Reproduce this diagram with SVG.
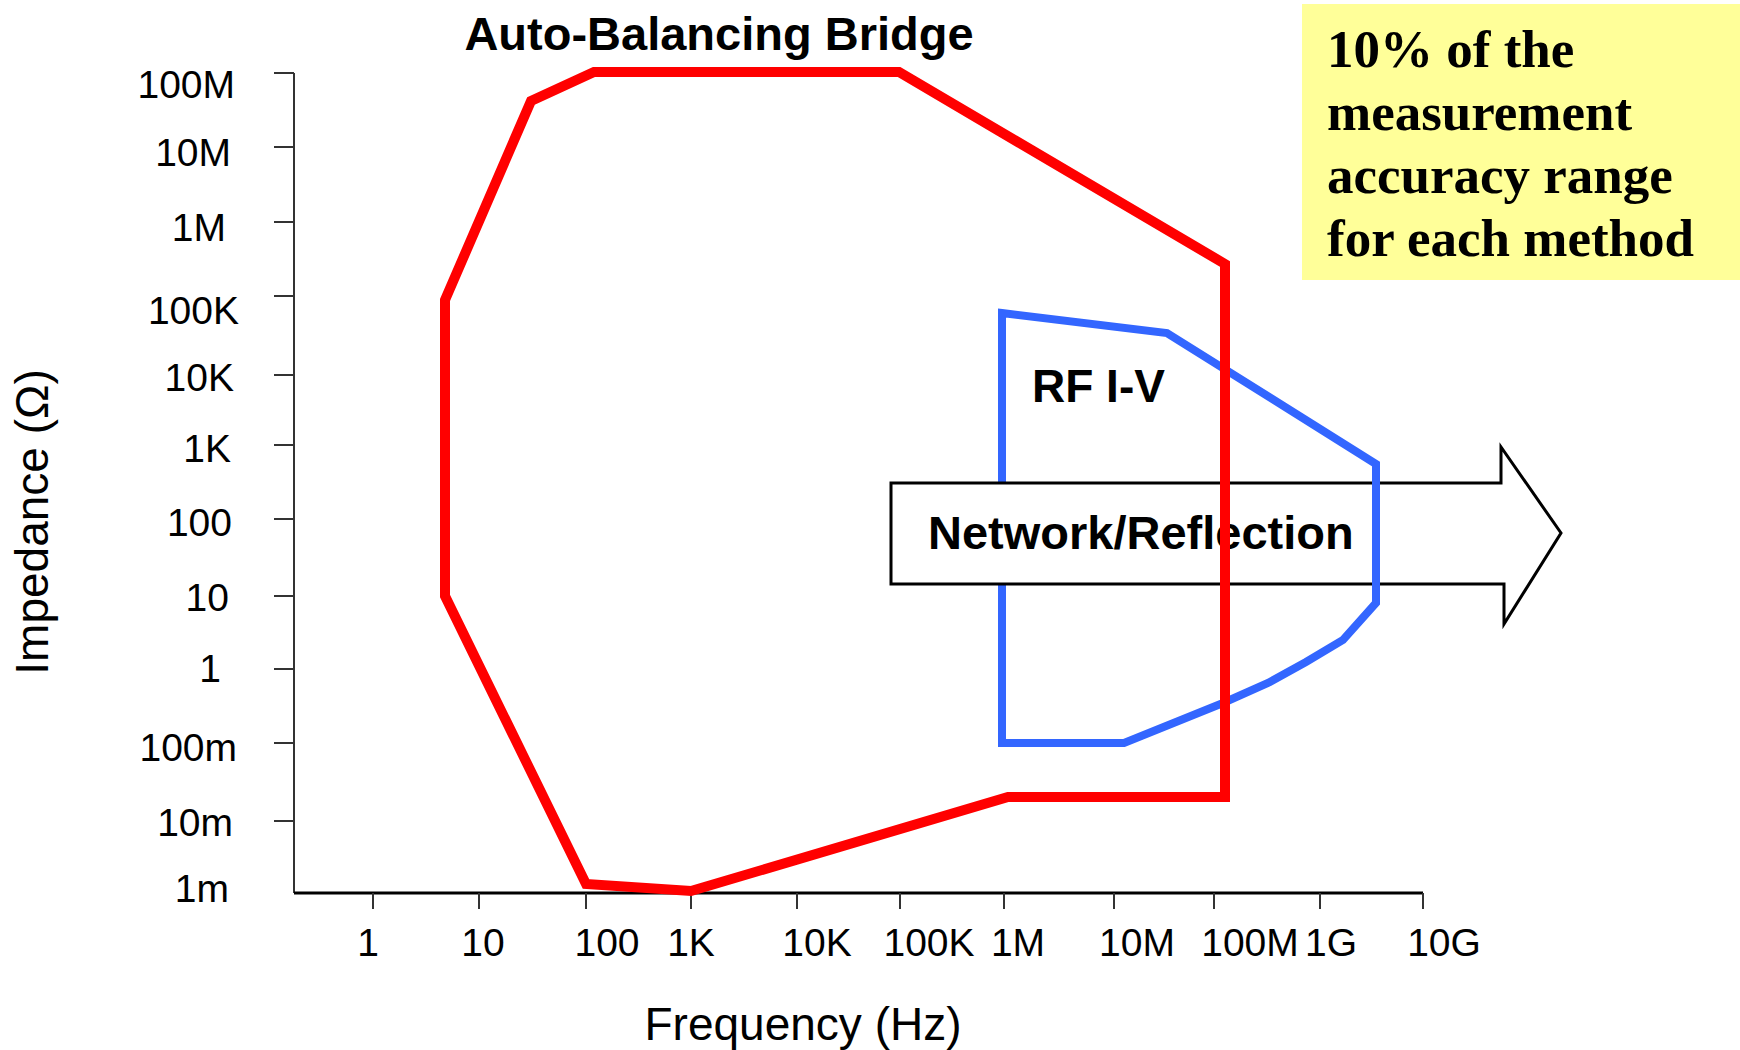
<svg xmlns="http://www.w3.org/2000/svg" width="1740" height="1050" viewBox="0 0 1740 1050">
<style>
.lbl{font-family:"Liberation Sans",Arial,sans-serif;font-size:39px;fill:#000}
.yl{text-anchor:end}
.xl{text-anchor:middle}
.tick{stroke:#333;stroke-width:2}
.ttl{font-family:"Liberation Sans",Arial,sans-serif;font-weight:bold;fill:#000}
.note{font-family:"Liberation Serif","Times New Roman",serif;font-weight:bold;font-size:53px;fill:#000}
</style>
<rect width="1740" height="1050" fill="#fff"/>
<g id="note">
<rect x="1302" y="4" width="438" height="276" fill="#FFFF99"/>
<text class="note" x="1327" y="67">10% of the</text>
<text class="note" x="1327" y="130">measurement</text>
<text class="note" x="1327" y="193">accuracy range</text>
<text class="note" x="1327" y="256">for each method</text>
</g>
<g id="axes">
<line x1="294" y1="73" x2="294" y2="893" stroke="#333" stroke-width="2"/>
<line x1="294" y1="893" x2="1423" y2="893" stroke="#000" stroke-width="3"/>
<g class="tick">
<line x1="274" y1="73" x2="294" y2="73"/>
<line x1="274" y1="147" x2="294" y2="147"/>
<line x1="274" y1="222" x2="294" y2="222"/>
<line x1="274" y1="296" x2="294" y2="296"/>
<line x1="274" y1="375" x2="294" y2="375"/>
<line x1="274" y1="445" x2="294" y2="445"/>
<line x1="274" y1="519" x2="294" y2="519"/>
<line x1="274" y1="596" x2="294" y2="596"/>
<line x1="274" y1="669" x2="294" y2="669"/>
<line x1="274" y1="743" x2="294" y2="743"/>
<line x1="274" y1="821" x2="294" y2="821"/>
<line x1="373" y1="893" x2="373" y2="909"/>
<line x1="479" y1="893" x2="479" y2="909"/>
<line x1="586" y1="893" x2="586" y2="909"/>
<line x1="691" y1="893" x2="691" y2="909"/>
<line x1="797" y1="893" x2="797" y2="909"/>
<line x1="900" y1="893" x2="900" y2="909"/>
<line x1="1004" y1="893" x2="1004" y2="909"/>
<line x1="1114" y1="893" x2="1114" y2="909"/>
<line x1="1214" y1="893" x2="1214" y2="909"/>
<line x1="1320" y1="893" x2="1320" y2="909"/>
<line x1="1423" y1="893" x2="1423" y2="909"/>
</g>
<g class="lbl yl">
<text x="235" y="98">100M</text>
<text x="231" y="166">10M</text>
<text x="226" y="241">1M</text>
<text x="239" y="324">100K</text>
<text x="234" y="391">10K</text>
<text x="231" y="462">1K</text>
<text x="232" y="536">100</text>
<text x="229" y="611">10</text>
<text x="221" y="682">1</text>
<text x="237" y="761">100m</text>
<text x="233" y="836">10m</text>
<text x="229" y="902">1m</text>
</g>
<g class="lbl xl">
<text x="368" y="956">1</text>
<text x="483" y="956">10</text>
<text x="607" y="956">100</text>
<text x="691" y="956">1K</text>
<text x="817" y="956">10K</text>
<text x="929" y="956">100K</text>
<text x="1018" y="956">1M</text>
<text x="1137" y="956">10M</text>
<text x="1250" y="956">100M</text>
<text x="1331" y="956">1G</text>
<text x="1444" y="956">10G</text>
</g>
<text class="lbl xl" style="font-size:46px" x="803" y="1040">Frequency (Hz)</text>
<text class="lbl xl" style="font-size:46px" transform="translate(48,522) rotate(-90)">Impedance (Ω)</text>
</g>
<g id="rf-iv">
<polygon points="1002,313 1167,333 1376,464 1376,603 1343,640 1306,662 1268,683 1223,703 1124,743 1002,743" fill="none" stroke="#3366FF" stroke-width="8" stroke-linejoin="miter"/>
<text class="ttl" style="font-size:46px" x="1032" y="402">RF I-V</text>
</g>
<g id="network-reflection">
<polygon points="891,483 1501,483 1501,447 1561,533 1504,624 1504,584 891,584" fill="#fff" stroke="#000" stroke-width="3"/>
<text class="ttl" style="font-size:47px" x="928" y="549">Network/Reflection</text>
<line x1="1376" y1="470" x2="1376" y2="600" stroke="#3366FF" stroke-width="8"/>
</g>
<g id="auto-balancing-bridge">
<polygon points="445,300 531,101 594,72 899,72 1225,264 1225,797 1008,797 691,891 586,884 445,596" fill="none" stroke="#FF0000" stroke-width="10"/>
<text class="ttl" style="font-size:47px" x="719" y="50" text-anchor="middle">Auto-Balancing Bridge</text>
</g>
<g id="connectors"/>
</svg>
